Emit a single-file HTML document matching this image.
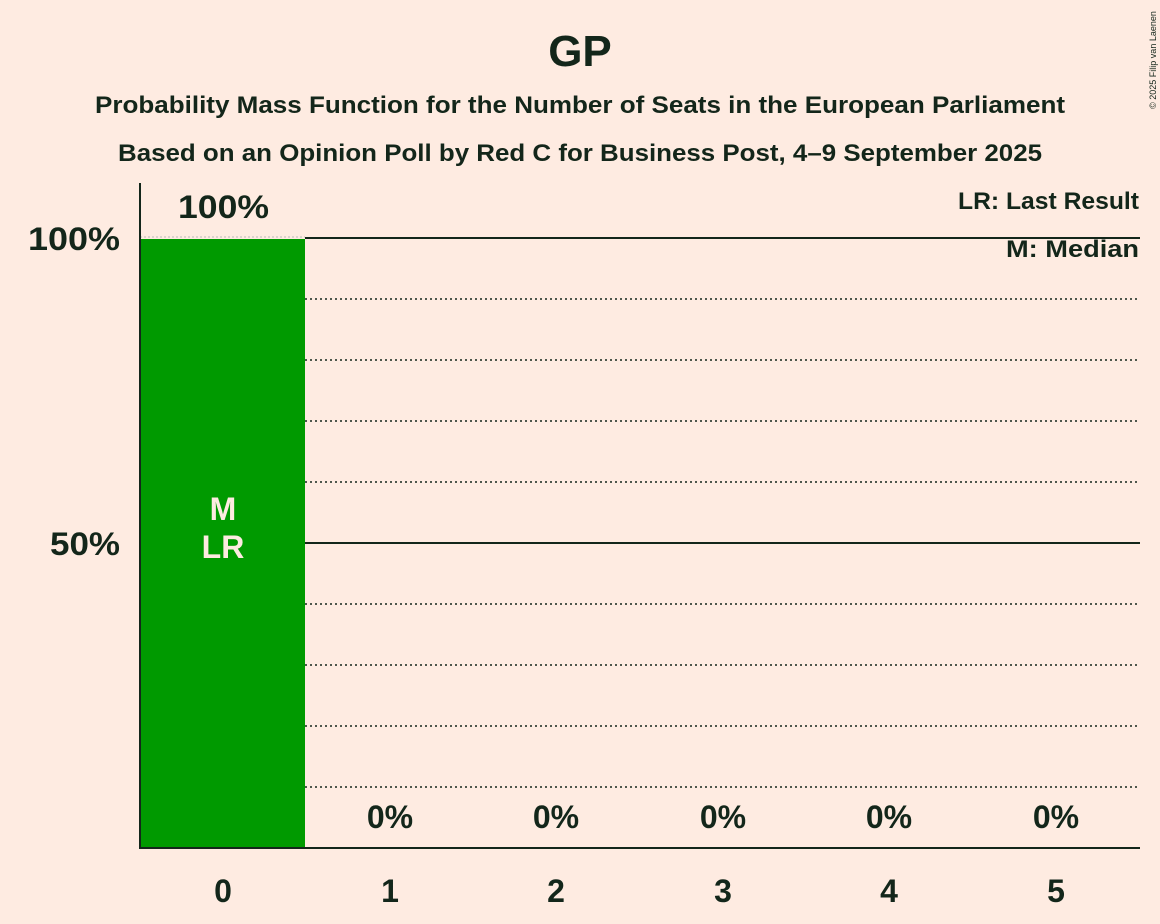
<!DOCTYPE html>
<html><head><style>
body{margin:0;background:#feebe1;}
svg{display:block;font-family:"Liberation Sans",sans-serif;font-weight:bold;fill:#13261a;}
</style></head><body>
<svg width="1160" height="924" viewBox="0 0 1160 924">
<rect width="1160" height="924" fill="#feebe1"/>
<text x="580" y="66" font-size="44" text-anchor="middle">GP</text>
<text x="95" y="113" font-size="24" textLength="970" lengthAdjust="spacingAndGlyphs">Probability Mass Function for the Number of Seats in the European Parliament</text>
<text x="118" y="161" font-size="24" textLength="924" lengthAdjust="spacingAndGlyphs">Based on an Opinion Poll by Red C for Business Post, 4–9 September 2025</text>
<text transform="translate(1156,60) rotate(-90)" font-size="9" font-weight="normal" text-anchor="middle">© 2025 Filip van Laenen</text>
<g stroke="#13261a" stroke-width="1.5" stroke-dasharray="2,3">
<line x1="305" x2="1140" y1="299" y2="299"/><line x1="305" x2="1140" y1="360" y2="360"/>
<line x1="305" x2="1140" y1="421" y2="421"/><line x1="305" x2="1140" y1="482" y2="482"/>
<line x1="305" x2="1140" y1="604" y2="604"/><line x1="305" x2="1140" y1="665" y2="665"/>
<line x1="305" x2="1140" y1="726" y2="726"/><line x1="305" x2="1140" y1="787" y2="787"/>
</g>
<line x1="140" x2="305" y1="237" y2="237" stroke="#bbb" stroke-width="1" stroke-dasharray="2,2"/>
<line x1="305" x2="1140" y1="238" y2="238" stroke="#13261a" stroke-width="2"/>
<line x1="305" x2="1140" y1="543" y2="543" stroke="#13261a" stroke-width="2"/>
<rect x="140" y="239" width="165" height="609" fill="#009a00"/>
<line x1="140" x2="140" y1="183" y2="849" stroke="#13261a" stroke-width="2"/>
<line x1="139" x2="1140" y1="848" y2="848" stroke="#13261a" stroke-width="2"/>
<text x="28" y="250" font-size="32" textLength="92" lengthAdjust="spacingAndGlyphs">100%</text>
<text x="50" y="555" font-size="32" textLength="70" lengthAdjust="spacingAndGlyphs">50%</text>
<text x="178" y="218" font-size="32" textLength="91" lengthAdjust="spacingAndGlyphs">100%</text>
<text x="223" y="520" font-size="32" text-anchor="middle" fill="#feebe1">M</text>
<text x="223" y="558" font-size="32" text-anchor="middle" fill="#feebe1">LR</text>
<g font-size="32" text-anchor="middle">
<text x="390" y="828">0%</text><text x="556" y="828">0%</text><text x="723" y="828">0%</text><text x="889" y="828">0%</text><text x="1056" y="828">0%</text>
<text x="223" y="902">0</text><text x="390" y="902">1</text><text x="556" y="902">2</text><text x="723" y="902">3</text><text x="889" y="902">4</text><text x="1056" y="902">5</text>
</g>
<text x="958" y="209" font-size="24" textLength="181" lengthAdjust="spacingAndGlyphs">LR: Last Result</text>
<text x="1006" y="257" font-size="24" textLength="133" lengthAdjust="spacingAndGlyphs">M: Median</text>
</svg>
</body></html>
